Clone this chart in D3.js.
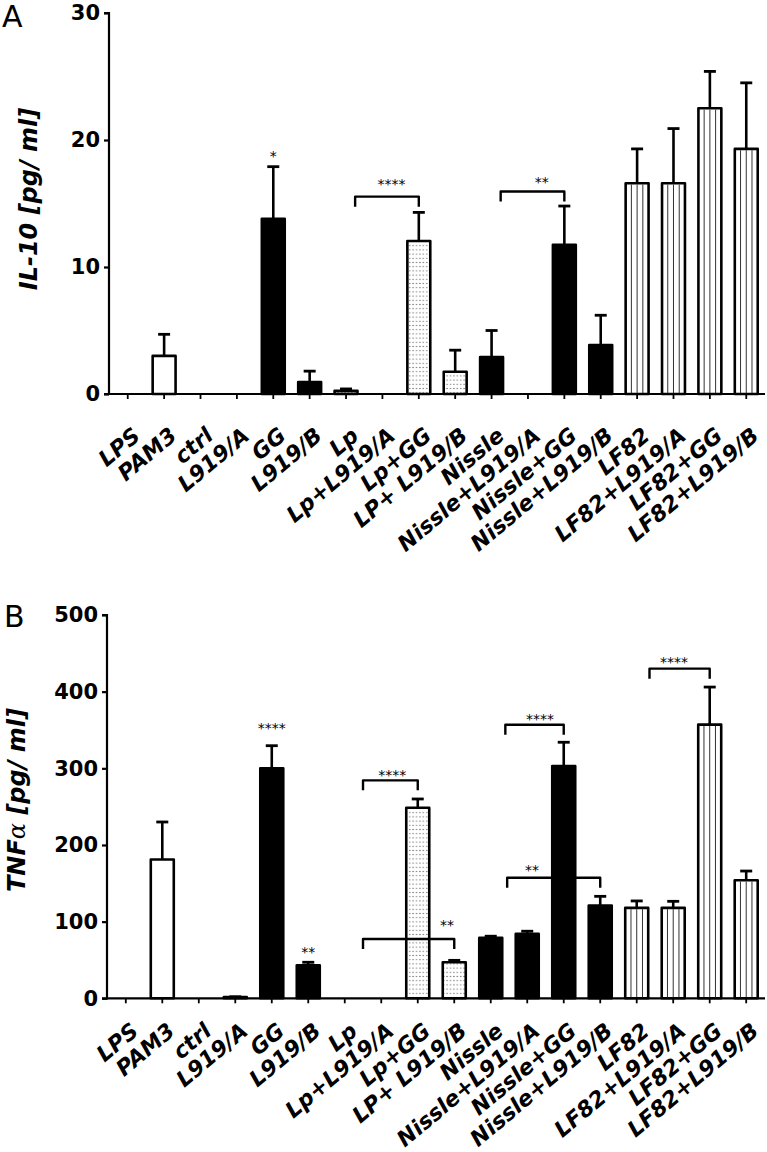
<!DOCTYPE html>
<html><head><meta charset="utf-8">
<script src="https://cdn.jsdelivr.net/npm/d3@7"></script>
<style>body{margin:0;background:#fff}svg{display:block}</style>
</head><body>
<svg id="chart" width="767" height="1152"></svg>
<script>
const categories = ["LPS","PAM3","ctrl","L919/A","GG","L919/B","Lp","Lp+L919/A","Lp+GG","LP+ L919/B","Nissle","Nissle+L919/A","Nissle+GG","Nissle+L919/B","LF82","LF82+L919/A","LF82+GG","LF82+L919/B"];
const fillTypes = ["white","white","white","white","black","black","dots","dots","dots","dots","black","black","black","black","stripes","stripes","stripes","stripes"];

const il10Mean = [0, 3.0, 0, 0, 13.8, 0.95, 0.25, 0, 12.05, 1.75, 2.9, 0, 11.75, 3.85, 16.6, 16.6, 22.5, 19.3];
const il10ErrTop = [0, 4.7, 0, 0, 17.9, 1.8, 0.4, 0, 14.3, 3.45, 5.0, 0, 14.8, 6.2, 19.3, 20.9, 25.4, 24.5];
const il10Ticks = [0, 10, 20, 30];
const il10Stars = [{pos: 4, y: 18.9, label: "*"}];
const il10Brackets = [
  {from: 6.25, to: 8, y: 15.54, label: "****", lx: 7.25, ly: 16.7},
  {from: 10.25, to: 12, y: 15.94, label: "**", lx: 11.38, ly: 16.9}
];

const tnfMean = [0, 181, 0, 1.5, 300, 43, 0, 0, 248.5, 47, 79, 84, 303, 121, 118, 118, 357, 154];
const tnfErrTop = [0, 230, 0, 2, 329.5, 47, 0, 0, 260, 49.5, 81, 87.5, 334, 133, 127, 126.5, 406, 166];
const tnfTicks = [0, 100, 200, 300, 400, 500];
const tnfStars = [{pos: 4, y: 355.6, label: "****"}, {pos: 5, y: 63.9, label: "**"}];
const tnfBrackets = [
  {from: 6.5, to: 8, y: 284.3, label: "****", lx: 7.3, ly: 294.8},
  {from: 6.5, to: 9, y: 77.3, label: "**", lx: 8.8, ly: 99.1},
  {from: 10.4, to: 12, y: 356.9, label: "****", lx: 11.35, ly: 367},
  {from: 10.45, to: 13, y: 157.3, label: "**", lx: 11.13, ly: 170.8},
  {from: 14.35, to: 16, y: 430, label: "****", lx: 15.02, ly: 442.6}
];

const svg = d3.select("#chart");
const defs = svg.append("defs");
const dp = defs.append("pattern").attr("id","dots").attr("patternUnits","userSpaceOnUse")
  .attr("width",3.4).attr("height",4.2);
dp.append("rect").attr("width",3.4).attr("height",4.2).attr("fill","#fff");
dp.append("rect").attr("x",1.2).attr("y",1.6).attr("width",1).attr("height",1).attr("fill","#444");

function panel(opts){
  const g = svg.append("g");
  const x = d3.scaleBand().domain(categories).range([opts.x0, opts.x1]).paddingInner(0.37).paddingOuter(0.2);
  const y = d3.scaleLinear().domain([0, opts.ymax]).range([opts.yb, opts.yt]);
  const bw = x.bandwidth();
  const cx = i => x(categories[0]) + bw/2 + i * x.step();

  categories.forEach((c, i) => {
    const v = opts.mean[i];
    const t = fillTypes[i];
    if (v <= 0) return;
    const top = y(v), h = opts.yb - top;
    const fill = t === "black" ? "#000" : (t === "dots" ? "url(#dots)" : "#fff");
    g.append("rect").attr("x", x(c)).attr("y", top).attr("width", bw).attr("height", h)
      .attr("fill", fill).attr("stroke", "#000").attr("stroke-width", 2.6).attr("stroke-linejoin","round");
    if (t === "stripes") {
      [0.25, 0.5, 0.75].forEach(f => {
        g.append("line").attr("x1", x(c) + bw*f).attr("x2", x(c) + bw*f)
          .attr("y1", top + 1.3).attr("y2", opts.yb).attr("stroke", "#333").attr("stroke-width", 1);
      });
    }
    const e = opts.err[i];
    if (e > v) {
      g.append("line").attr("x1", cx(i)).attr("x2", cx(i)).attr("y1", top).attr("y2", y(e))
        .attr("stroke","#000").attr("stroke-width",2.6);
      g.append("line").attr("x1", cx(i)-6).attr("x2", cx(i)+6).attr("y1", y(e)).attr("y2", y(e))
        .attr("stroke","#000").attr("stroke-width",2.8);
    }
  });

  opts.brackets.forEach(b => {
    const yy = y(b.y);
    g.append("path").attr("d", `M${cx(b.from)},${yy+10}V${yy}H${cx(b.to)}V${yy+10}`)
      .attr("fill","none").attr("stroke","#000").attr("stroke-width",2.4).attr("stroke-linejoin","round");
    g.append("text").attr("x", cx(b.lx)).attr("y", y(b.ly) + 7.5).attr("text-anchor","middle")
      .attr("font-family","DejaVu Sans").attr("font-size",14).text(b.label);
  });
  opts.stars.forEach(s => {
    g.append("text").attr("x", cx(s.pos)).attr("y", y(s.y) + 7.5).attr("text-anchor","middle")
      .attr("font-family","DejaVu Sans").attr("font-size",14).text(s.label);
  });

  const ya = g.append("g").attr("transform", `translate(${opts.x0},0)`)
    .call(d3.axisLeft(y).tickValues(opts.ticks).tickSize(5).tickPadding(4).tickFormat(d3.format("d")));
  ya.select(".domain").attr("stroke-width", 2.2).attr("d", `M-5,${opts.yt}H0V${opts.yb}H-5`);
  ya.selectAll(".tick line").attr("stroke-width", 2.2);
  ya.selectAll("text").attr("font-family","DejaVu Sans").attr("font-weight","bold").attr("font-size",21).attr("fill","#000");

  const xa = g.append("g").attr("transform", `translate(0,${opts.yb})`)
    .call(d3.axisBottom(x).tickSize(5).tickPadding(0).tickSizeOuter(0));
  xa.select(".domain").attr("stroke-width", 2.2).attr("d", `M${opts.x0},0H${opts.x1}`);
  xa.selectAll(".tick line").attr("stroke-width", 1.8);
  xa.selectAll("text").attr("font-family","DejaVu Sans").attr("font-weight","bold").attr("font-style","italic")
    .attr("font-size",22).attr("fill","#000").attr("text-anchor","end").attr("dy",0)
    .attr("transform",`translate(14,${opts.labelDy}) rotate(-40)`).attr("y",0);

  const tt = g.append("text").attr("transform", `translate(${opts.titleX},${opts.titleY}) rotate(-90)`)
    .attr("text-anchor","middle").attr("font-family","DejaVu Sans").attr("font-weight","bold")
    .attr("font-style","italic").attr("font-size",24);
  opts.title(tt);

  svg.append("text").attr("x", opts.letterX).attr("y", opts.letterY).attr("font-family","DejaVu Sans")
    .attr("font-size", 30).text(opts.letter);
}

panel({x0:109, x1:765, yb:394, yt:13, ymax:30, mean:il10Mean, err:il10ErrTop, ticks:il10Ticks,
  stars:il10Stars, brackets:il10Brackets, titleX:37, titleY:199, letter:"A", letterX:2, letterY:27, labelDy:44,
  title: t => t.text("IL-10 [pg/ ml]")});
panel({x0:107, x1:765, yb:998.3, yt:615, ymax:500, mean:tnfMean, err:tnfErrTop, ticks:tnfTicks,
  stars:tnfStars, brackets:tnfBrackets, titleX:25, titleY:800, letter:"B", letterX:4, letterY:627, labelDy:35,
  title: t => { t.append("tspan").text("TNF"); t.append("tspan").attr("font-weight","normal").attr("font-family","DejaVu Serif").text("α"); t.append("tspan").text(" [pg/ ml]"); }});
</script>
</body></html>
